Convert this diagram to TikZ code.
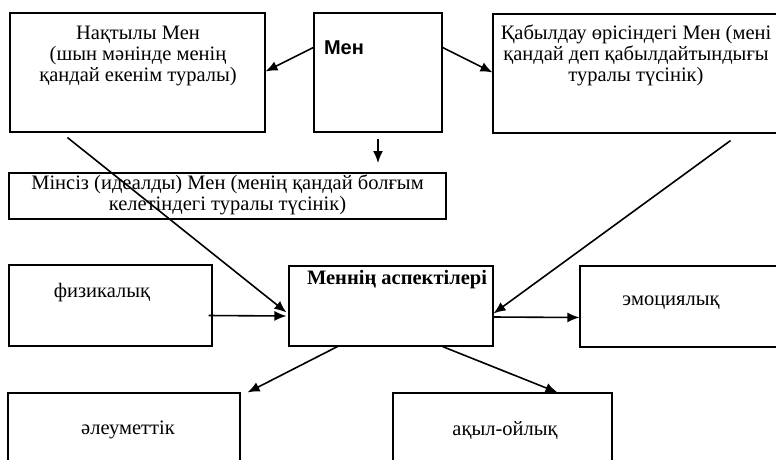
\documentclass[tikz,border=0pt]{standalone}
\usepackage{fontspec}
\setmainfont{Liberation Serif}
\newfontfamily\headsans{Liberation Sans}
\usetikzlibrary{arrows.meta,positioning,calc}
\tikzstyle{arrow} = [-{Latex[length=12pt,width=10pt]}, line width=1.6pt]
\tikzstyle{box} = [draw, line width=1.1pt, inner sep=0pt]
\tikzstyle{boxtext} = [align=center, inner sep=0pt, font=\fontsize{20.5}{21}\selectfont]

\begin{document}
\begin{tikzpicture}[x=1pt,y=-1pt]
\useasboundingbox (0,0) rectangle (776,459);
\clip (0,0) rectangle (776,459);

% top row
\node[box, minimum width=255pt, minimum height=119pt] (real) at (137.5,72.5) {};
\node[boxtext] (realtext) at (138,56) {Нақтылы Мен\\(шын мәнінде менің\\қандай екенім туралы)};
\node[box, minimum width=128pt, minimum height=119pt] (men) at (378,72.5) {};
\node[boxtext, font=\headsans\bfseries\fontsize{20}{22}\selectfont] (mentext) at (344,48) {Мен};
\node[box, minimum width=297pt, minimum height=119pt] (perc) at (641.5,73.5) {};
\node[boxtext] (perctext) at (636,55) {Қабылдау өрісіндегі Мен (мені\\қандай деп қабылдайтындығы\\туралы түсінік)};

% ideal self
\node[box, minimum width=437pt, minimum height=46pt] (ideal) at (227.5,196) {};
\node[boxtext] (idealtext) at (227.5,195) {Мінсіз (идеалды) Мен (менің қандай болғым\\келетіндегі туралы түсінік)};
\coordinate (downtip) at (378,163);

% middle row
\node[box, minimum width=203pt, minimum height=81pt] (fiz) at (110.5,305.5) {};
\node[boxtext] (fiztext) at (102,293) {физикалық};
\node[box, minimum width=204pt, minimum height=80pt] (asp) at (391,306) {};
\node[boxtext, font=\bfseries\fontsize{20.5}{22}\selectfont] (asptext) at (397,280) {Меннің аспектілері};
\node[box, minimum width=210pt, minimum height=81pt] (emo) at (685,306.5) {};
\node[boxtext] (emotext) at (671,303) {эмоциялық};

% bottom row
\node[box, minimum width=232pt, minimum height=87pt] (soc) at (124,436.5) {};
\node[boxtext] (soctext) at (128,430) {әлеуметтік};
\node[box, minimum width=219pt, minimum height=87pt] (mind) at (502.5,436.5) {};
\node[boxtext] (mindtext) at (505,430) {ақыл-ойлық};

% connectors
\draw[arrow] ([yshift=-35pt]men.north west) -- ([yshift=-59pt]real.north east);
\draw[arrow] ([yshift=-35pt]men.north east) -- ([yshift=-59pt]perc.north west);
\draw[arrow] ([yshift=-6pt]men.south) -- (downtip);
\draw[arrow] ([xshift=58pt,yshift=-5pt]real.south west) -- ([xshift=-2pt,yshift=-47pt]asp.north west);
\draw[arrow] ([xshift=-60pt,yshift=-7pt]perc.south east) -- ([yshift=-48pt]asp.north east);
\draw[arrow] ([xshift=-4pt,yshift=-10pt]fiz.east) -- ([xshift=-2pt,yshift=-10pt]asp.west);
\draw[arrow] ([yshift=-11pt]asp.east) -- ([yshift=-11pt]emo.west);
\draw[arrow] ([xshift=49pt]asp.south west) -- ([xshift=7pt]soc.north east);
\draw[arrow] ([xshift=-51pt]asp.south east) -- ([xshift=55pt]mind.north);
\end{tikzpicture}
\end{document}
